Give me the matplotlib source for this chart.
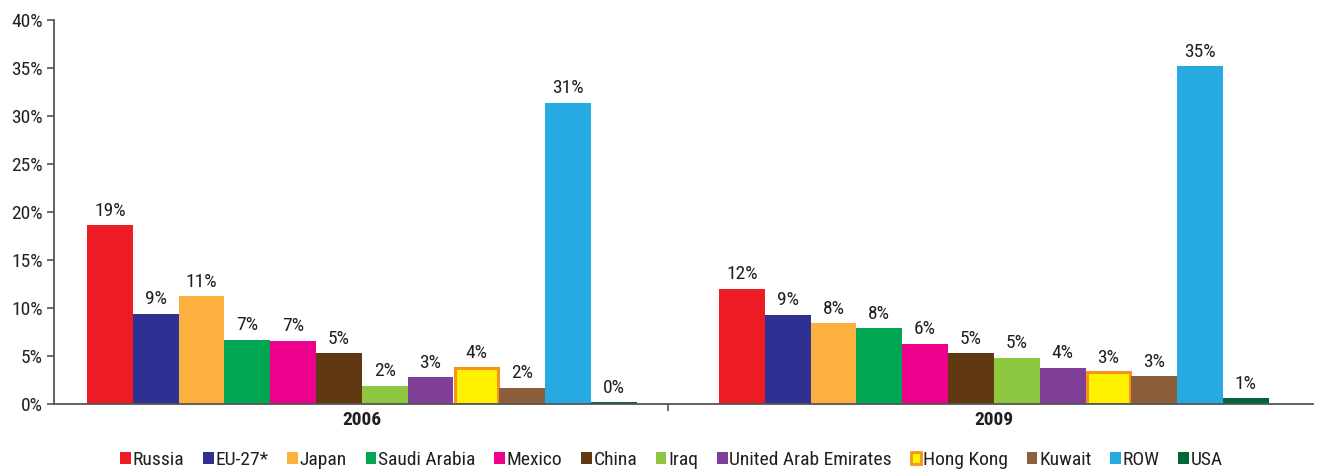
import numpy as np
import matplotlib
matplotlib.use("Agg")
import matplotlib.pyplot as plt
from matplotlib.patches import Patch

plt.rcParams['font.family'] = ['Roboto Condensed', 'DejaVu Sans']

years = ['2006', '2009']
countries = ['Russia', 'EU-27*', 'Japan', 'Saudi Arabia', 'Mexico', 'China', 'Iraq',
             'United Arab Emirates', 'Hong Kong', 'Kuwait', 'ROW', 'USA']
share_2006 = [18.6, 9.4, 11.2, 6.7, 6.6, 5.3, 1.9, 2.8, 3.8, 1.7, 31.4, 0.2]
share_2009 = [12.0, 9.3, 8.4, 7.9, 6.3, 5.3, 4.8, 3.8, 3.3, 2.9, 35.2, 0.6]

colors = ['#ED1C24', '#2E3192', '#FBB040', '#00A651', '#EC008C', '#603913', '#8DC63F',
          '#7F3F98', '#FFF200', '#8B5E3C', '#27AAE1', '#006838']
edges = [None] * 12
edges[8] = '#F7941D'  # Hong Kong has an orange border

fig = plt.figure(figsize=(13.17, 4.71), dpi=100)
ax = fig.add_axes([0.041, 0.1423, 0.956, 0.8152])

data = np.array([share_2006, share_2009])
x = np.arange(len(years))
w = 0.0725
n = len(countries)

for i, name in enumerate(countries):
    pos = x + (i - (n - 1) / 2) * w
    if edges[i]:
        bars = ax.bar(pos, data[:, i], w * 0.93, color=colors[i], edgecolor=edges[i],
                      linewidth=2.2, label=name)
    else:
        bars = ax.bar(pos, data[:, i], w, color=colors[i], linewidth=0, label=name)
    for b, v in zip(bars, data[:, i]):
        ax.annotate(f'{v:.0f}%', (b.get_x() + b.get_width() / 2, v),
                    xytext=(0, 4), textcoords='offset points',
                    ha='center', va='bottom', fontsize=14, color='#231F20')

ax.set_xlim(-0.487, 1.505)
ax.set_ylim(0, 40)
ax.set_yticks(np.arange(0, 41, 5))
ax.set_yticklabels([f'{t}%' for t in range(0, 41, 5)], fontsize=14, color='#231F20')

ax.set_xticks(x)
ax.set_xticklabels(years, fontsize=14, fontweight='bold', color='#231F20')
ax.tick_params(axis='x', length=0, pad=5)
ax.set_xticks([0.484], minor=True)
ax.tick_params(axis='x', which='minor', length=5, color='#555555', width=1.2)
ax.tick_params(axis='y', length=5, color='#555555', width=1.2, pad=3)

for s in ['top', 'right']:
    ax.spines[s].set_visible(False)
for s in ['left', 'bottom']:
    ax.spines[s].set_color('#555555')
    ax.spines[s].set_linewidth(1.3)

handles = []
for i, name in enumerate(countries):
    if edges[i]:
        handles.append(Patch(facecolor=colors[i], edgecolor=edges[i], linewidth=2, label=name))
    else:
        handles.append(Patch(facecolor=colors[i], label=name))
fig.legend(handles=handles, loc='center', bbox_to_anchor=(0.51, 0.024), ncol=12,
           frameon=False, fontsize=14, handlelength=0.55, handleheight=0.55,
           handletextpad=0.1, columnspacing=0.95, labelcolor='#231F20')

fig.savefig('out.png', dpi=100)
